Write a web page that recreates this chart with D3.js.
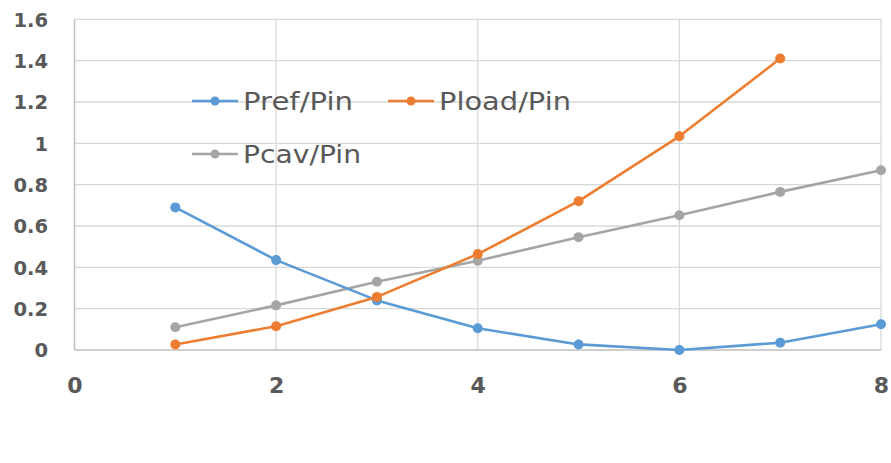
<!DOCTYPE html>
<html>
<head>
<meta charset="utf-8">
<script src="https://cdn.jsdelivr.net/npm/d3@7"></script>
<style>
  html, body { margin: 0; padding: 0; background: #fff; }
  svg { display: block; }
</style>
</head>
<body>
<svg id="chart" width="891" height="463"></svg>
<script>
const xValues = [1, 2, 3, 4, 5, 6, 7, 8];
const prefPin  = [0.69, 0.435, 0.24, 0.105, 0.027, 0.0, 0.035, 0.125];
const ploadPin = [0.027, 0.115, 0.257, 0.464, 0.72, 1.034, 1.41, null];
const pcavPin  = [0.11, 0.216, 0.33, 0.432, 0.546, 0.652, 0.765, 0.87];
const seriesNames = ["Pref/Pin", "Pload/Pin", "Pcav/Pin"];
const seriesColors = ["#5B9BD5", "#ED7D31", "#A5A5A5"];
const xTicks = [0, 2, 4, 6, 8];
const yTicks = [0, 0.2, 0.4, 0.6, 0.8, 1, 1.2, 1.4, 1.6];

const svg = d3.select("#chart");
const x = d3.scaleLinear().domain([0, 8]).range([74.5, 881]);
const y = d3.scaleLinear().domain([0, 1.6]).range([350, 19.3]);

// gridlines
const grid = svg.append("g");
grid.selectAll("line.h").data(yTicks.filter(d => d > 0)).enter().append("line")
  .attr("x1", x(0)).attr("x2", x(8))
  .attr("y1", d => y(d)).attr("y2", d => y(d))
  .attr("stroke", "#d9d9d9").attr("stroke-width", 1.3);
grid.selectAll("line.v").data(xTicks.filter(d => d > 0)).enter().append("line")
  .attr("x1", d => x(d)).attr("x2", d => x(d))
  .attr("y1", y(0)).attr("y2", y(1.6))
  .attr("stroke", "#d9d9d9").attr("stroke-width", 1.3);

// axes lines
svg.append("line").attr("x1", x(0)).attr("x2", x(0)).attr("y1", y(0)).attr("y2", y(1.6))
  .attr("stroke", "#bfbfbf").attr("stroke-width", 1.5);
svg.append("line").attr("x1", x(0)).attr("x2", x(8)).attr("y1", y(0)).attr("y2", y(0))
  .attr("stroke", "#bfbfbf").attr("stroke-width", 1.5);

// tick labels via axes
const yAxis = d3.axisLeft(y).tickValues(yTicks).tickSize(0).tickPadding(0)
  .tickFormat(d => d3.format("")(+d.toFixed(1)));
const yg = svg.append("g").attr("transform", "translate(48,0)").call(yAxis);
yg.select(".domain").remove();
yg.selectAll("text").attr("font-family", "DejaVu Sans").attr("font-weight", "bold")
  .attr("font-size", 19.5).attr("fill", "#595959").attr("dy", "0.35em");

const xAxis = d3.axisBottom(x).tickValues(xTicks).tickSize(0).tickPadding(0);
const xg = svg.append("g").attr("transform", "translate(0,377)").call(xAxis);
xg.select(".domain").remove();
xg.selectAll("text").attr("font-family", "DejaVu Sans").attr("font-weight", "bold")
  .attr("font-size", 22).attr("fill", "#595959").attr("dy", "0.72em");

// series
const allSeries = [prefPin, ploadPin, pcavPin];
const line = d3.line().defined(d => d[1] != null).x(d => x(d[0])).y(d => y(d[1]));
const order = [2, 0, 1];
order.forEach(i => {
  const data = xValues.map((xv, j) => [xv, allSeries[i][j]]);
  svg.append("path").datum(data).attr("d", line)
    .attr("fill", "none").attr("stroke", seriesColors[i]).attr("stroke-width", 2.6)
    .attr("stroke-linejoin", "round");
  svg.append("g").selectAll("circle").data(data.filter(d => d[1] != null)).enter()
    .append("circle").attr("cx", d => x(d[0])).attr("cy", d => y(d[1])).attr("r", 5)
    .attr("fill", seriesColors[i]);
});

// legend
const legendPos = [[192, 101], [388, 101], [192, 154]];
const targetWidths = [110, 132, 118];
seriesNames.forEach((name, i) => {
  const [lx, ly] = legendPos[i];
  const g = svg.append("g").attr("transform", `translate(${lx},${ly})`);
  g.append("line").attr("x1", 0).attr("x2", 46).attr("y1", 0).attr("y2", 0)
    .attr("stroke", seriesColors[i]).attr("stroke-width", 2.6);
  g.append("circle").attr("cx", 23).attr("cy", 0).attr("r", 4.5).attr("fill", seriesColors[i]);
  g.append("text").attr("x", 51).attr("y", 0).attr("dy", "0.36em")
    .attr("font-family", "DejaVu Sans").attr("font-size", 24).attr("fill", "#595959")
    .attr("textLength", targetWidths[i]).attr("lengthAdjust", "spacingAndGlyphs")
    .text(name);
});
</script>
</body>
</html>
